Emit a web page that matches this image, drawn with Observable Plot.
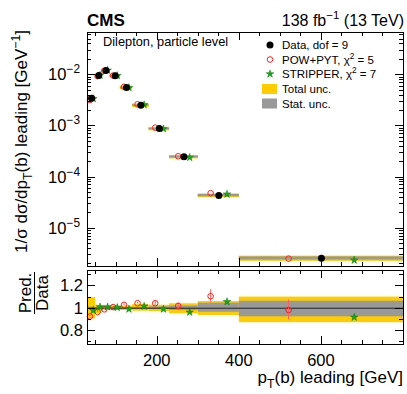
<!DOCTYPE html>
<html><head><meta charset="utf-8">
<script src="https://cdn.jsdelivr.net/npm/d3@7"></script>
<script src="https://cdn.jsdelivr.net/npm/@observablehq/plot@0.6"></script>
<style>
html,body{margin:0;padding:0;background:#fff;overflow:hidden}
#wrap{position:relative;width:407px;height:394px;overflow:hidden}
#wrap svg{position:absolute;left:0;top:0}
</style></head><body><div id="wrap"></div>
<script>
// ---- data ----
const binLo = [30, 50, 65, 85, 110, 140, 180, 230, 300, 400];
const binHi = [50, 65, 85, 110, 140, 180, 230, 300, 400, 800];
const dataXsec = [3.47e-3, 9.7e-3, 1.21e-2, 9.55e-3, 5.64e-3, 2.54e-3, 8.85e-4, 2.5e-4, 4.37e-5, 2.58e-6];
const powRatio = [0.926, 0.967, 0.99, 1.01, 1.03, 1.045, 1.045, 1.02, 1.108, 0.984];
const powErr   = [0.008, 0.006, 0.005, 0.005, 0.006, 0.008, 0.02, 0.03, 0.06, 0.09];
const stripRatio = [0.98, 1.011, 1.011, 1.006, 0.992, 1.018, 0.992, 0.964, 1.058, 0.919];
const totUp  = [0.095, 0.027, 0.02, 0.02, 0.02, 0.033, 0.027, 0.04, 0.06, 0.10];
const totDn  = [0.095, 0.048, 0.02, 0.02, 0.02, 0.027, 0.03, 0.05, 0.065, 0.13];
const statUp = [0.01, 0.006, 0.005, 0.005, 0.006, 0.008, 0.012, 0.02, 0.045, 0.063];
const statDn = [0.01, 0.006, 0.005, 0.005, 0.006, 0.008, 0.012, 0.02, 0.036, 0.077];

const xMajor = [200, 400, 600];
const xMajorLabels = ["200", "400", "600"];
const xMinor = [50, 100, 150, 250, 300, 350, 450, 500, 550, 650, 700, 750];
const yMajor = [1e-5, 1e-4, 1e-3, 1e-2];
const yMajorExp = ["\u22125", "\u22124", "\u22123", "\u22122"];
const rMajor = [0.8, 1, 1.2];
const rMajorLabels = ["0.8", "1", "1.2"];
const rMinor = [0.7, 0.9, 1.1, 1.3];
const legendLabels = [
  [["Data, dof = 9","n"]],
  [["POW+PYT, \u03c7","n"],["2","sup"],[" = 5","n"]],
  [["STRIPPER, \u03c7","n"],["2","sup"],[" = 7","n"]],
  [["Total unc.","n"]],
  [["Stat. unc.","n"]]
];

// ---- layout / style ----
const W = 407, H = 394;
const xDomain = [30, 800];
const yDomain = [1.78e-6, 0.0671];
const rDomain = [0.674, 1.339];
const L = 87, R = 403, mainTop = 32, mainBot = 266, ratTop = 270, ratBot = 344;
const YEL = "#ffcc00", GRY = "#999999", RED = "#ff2020", GRN = "#1aa51a";
const FONT = '"Liberation Sans", Arial, sans-serif';

const rows = binLo.map((lo, i) => {
  const hi = binHi[i], w = hi - lo, c = (lo + hi) / 2;
  return {lo, hi, c, xr: c - 0.2 * w, xs: c + 0.2 * w, v: dataXsec[i],
    pr: powRatio[i], pe: powErr[i], sr: stripRatio[i],
    tu: totUp[i], td: totDn[i], su: statUp[i], sd: statDn[i]};
});

const main = Plot.plot({
  width: W, height: H, marginLeft: L, marginRight: W - R, marginTop: mainTop, marginBottom: H - mainBot,
  x: {domain: xDomain, axis: null},
  y: {type: "log", domain: yDomain, axis: null},
  style: {background: "white", fontFamily: FONT},
  marks: [
    Plot.rect(rows, {x1: "lo", x2: "hi", y1: d => d.v * (1 - d.td), y2: d => d.v * (1 + d.tu), fill: YEL}),
    Plot.ruleY(rows, {x1: "lo", x2: "hi", y: "v", stroke: YEL, strokeWidth: 3.5}),
    Plot.rect(rows, {x1: "lo", x2: "hi", y1: d => d.v * (1 - d.sd), y2: d => d.v * (1 + d.su), fill: GRY}),
    Plot.ruleY(rows, {x1: "lo", x2: "hi", y: "v", stroke: GRY, strokeWidth: 1.6}),
    Plot.dot(rows, {x: "xr", y: d => d.v * d.pr, r: 2.8, stroke: RED, strokeWidth: 1, fill: "none"}),
    Plot.dot(rows, {x: "xs", y: d => d.v * d.sr, symbol: "star", r: 2.4, fill: GRN, stroke: "#0b7a0b", strokeWidth: 0.5}),
    Plot.dot(rows, {x: "c", y: "v", r: 3.5, fill: "black"}),
    Plot.frame({stroke: "black", strokeWidth: 1})
  ]
});

const ratio = Plot.plot({
  width: W, height: H, marginLeft: L, marginRight: W - R, marginTop: ratTop, marginBottom: H - ratBot,
  x: {domain: xDomain, axis: null},
  y: {domain: rDomain, axis: null},
  style: {background: "transparent", fontFamily: FONT},
  marks: [
    Plot.rect(rows, {x1: "lo", x2: "hi", y1: d => 1 - d.td, y2: d => 1 + d.tu, fill: YEL}),
    Plot.rect(rows, {x1: "lo", x2: "hi", y1: d => 1 - d.sd, y2: d => 1 + d.su, fill: GRY}),
    Plot.ruleY([1], {stroke: "#222", strokeWidth: 1}),
    Plot.ruleX(rows, {x: "xr", y1: d => d.pr - d.pe, y2: d => d.pr + d.pe, stroke: "#ff6060", strokeWidth: 1}),
    Plot.dot(rows, {x: "xr", y: "pr", r: 2.8, stroke: RED, strokeWidth: 1, fill: "none"}),
    Plot.dot(rows, {x: "xs", y: "sr", symbol: "star", r: 2.4, fill: GRN, stroke: "#0b7a0b", strokeWidth: 0.5}),
    Plot.frame({stroke: "black", strokeWidth: 1})
  ]
});

const wrap = document.getElementById("wrap");
wrap.appendChild(main);
wrap.appendChild(ratio);

const px = v => Math.round(v) + 0.5;

function ticks(svg, sx, sy, top, bot, yMaj, yMin) {
  const g = d3.select(svg).append("g").attr("stroke", "black").attr("stroke-width", 1).attr("fill", "none");
  const line = (x1, y1, x2, y2) => g.append("line").attr("x1", x1).attr("y1", y1).attr("x2", x2).attr("y2", y2);
  xMajor.forEach(v => { const X = px(sx.apply(v)); line(X, bot, X, bot - 8); line(X, top, X, top + 8); });
  xMinor.forEach(v => { const X = px(sx.apply(v)); line(X, bot, X, bot - 4); line(X, top, X, top + 4); });
  yMaj.forEach(v => { const Y = px(sy.apply(v)); line(L, Y, L + 8, Y); line(R, Y, R - 8, Y); });
  yMin.forEach(v => { const Y = px(sy.apply(v)); line(L, Y, L + 4, Y); line(R, Y, R - 4, Y); });
}

function rich(g, x, y, size, parts, anchor = "start", weight = "normal", transform = null) {
  const t = g.append("text").attr("x", x).attr("y", y).attr("font-size", size)
    .attr("text-anchor", anchor).attr("font-weight", weight).attr("font-family", FONT).attr("fill", "black");
  if (transform) t.attr("transform", transform);
  let shift = 0;
  for (const [s, k] of parts) {
    const target = k === "sup" ? -0.42 * size : k === "sub" ? 0.3 * size : 0;
    t.append("tspan").attr("dy", target - shift).attr("font-size", k === "n" ? size : size * 0.72).text(s);
    shift = target;
  }
  return t;
}

const sxM = main.scale("x"), syM = main.scale("y");
const logMinor = [];
for (let e = -6; e <= -2; e++) for (let k = 2; k <= 9; k++) {
  const v = k * Math.pow(10, e);
  if (v > yDomain[0] && v < yDomain[1]) logMinor.push(v);
}
ticks(main, sxM, syM, mainTop, mainBot, yMajor, logMinor);

const sxR = ratio.scale("x"), syR = ratio.scale("y");
ticks(ratio, sxR, syR, ratTop, ratBot, rMajor, rMinor);

// ---- texts ----
const gm = d3.select(main).append("g");
rich(gm, L, 26, 17, [["CMS", "n"]], "start", "bold");
rich(gm, R + 1, 26, 16, [["138 fb", "n"], ["\u22121", "sup"], [" (13 TeV)", "n"]], "end");
rich(gm, 103, 46, 12.8, [["Dilepton, particle level", "n"]]);

yMajor.forEach((v, i) => {
  const Y = syM.apply(v);
  rich(gm, 80, Y + 6, 16.5, [["10", "n"], [yMajorExp[i], "sup"]], "end");
});

rich(gm, 0, 0, 17, [["1/\u03c3 d\u03c3/dp", "n"], ["T", "sub"], ["(b) leading [GeV", "n"], ["\u22121", "sup"], ["]", "n"]],
  "end", "normal", "translate(27,30) rotate(-90)");

// legend
const legY = [45, 59.5, 74, 89, 103.5];
const lx = 270;
gm.append("circle").attr("cx", lx).attr("cy", legY[0]).attr("r", 3.5).attr("fill", "black");
gm.append("circle").attr("cx", lx).attr("cy", legY[1]).attr("r", 2.8).attr("fill", "none").attr("stroke", RED);
gm.append("path").attr("d", d3.symbol(d3.symbolStar, Math.PI * 2.4 * 2.4)()).attr("transform", `translate(${lx},${legY[2]})`)
  .attr("fill", GRN).attr("stroke", "#0b7a0b").attr("stroke-width", 0.5);
gm.append("rect").attr("x", 262).attr("y", legY[3] - 5).attr("width", 15).attr("height", 10).attr("fill", YEL);
gm.append("rect").attr("x", 262).attr("y", legY[4] - 5).attr("width", 15).attr("height", 10).attr("fill", GRY);
legendLabels.forEach((p, i) => rich(gm, 282, legY[i] + 4, 11.5, p));

// ratio texts
const gr = d3.select(ratio).append("g");
rMajor.forEach((v, i) => rich(gr, 83, syR.apply(v) + 6, 16.5, [[rMajorLabels[i], "n"]], "end"));
xMajor.forEach((v, i) => rich(gr, sxR.apply(v), 366, 16.5, [[xMajorLabels[i], "n"]], "middle"));
rich(gr, R, 383, 17, [["p", "n"], ["T", "sub"], ["(b) leading [GeV]", "n"]], "end");

// Pred./Data fraction (rotated)
const fy = 293;
rich(gr, 0, 0, 17, [["Pred.", "n"]], "middle", "normal", `translate(31,${fy}) rotate(-90)`);
rich(gr, 0, 0, 17, [["Data", "n"]], "middle", "normal", `translate(47.5,${fy}) rotate(-90)`);
gr.append("line").attr("x1", 34.5).attr("x2", 34.5).attr("y1", fy - 21).attr("y2", fy + 21).attr("stroke", "black").attr("stroke-width", 1);
</script></body></html>
